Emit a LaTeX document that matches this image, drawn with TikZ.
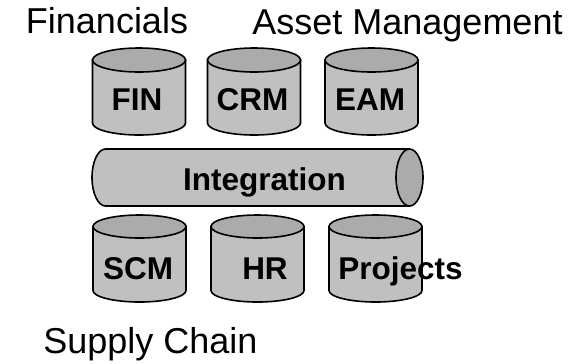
\documentclass[tikz,border=0pt]{standalone}
\usepackage{fontspec}
\setmainfont{Liberation Sans}
\definecolor{bodygray}{HTML}{C0C0C0}
\definecolor{capgray}{HTML}{ABABAB}
\tikzset{
  outline/.style={draw=black, line width=1.6bp},
  dblabel/.style={inner sep=0pt, anchor=base, font=\fontsize{31.5bp}{36bp}\selectfont\bfseries},
  arealabel/.style={inner sep=0pt, anchor=base, font=\fontsize{36bp}{42bp}\selectfont},
}
% upright drum: #1 centre x, #2 y of top ellipse centre, #3 y of bottom arc centre, #4 y radius
\newcommand\drum[4]{%
  \path[outline, fill=bodygray]
    (#1-46.5,#2) -- (#1-46.5,#3)
    arc[start angle=180, end angle=360, x radius=46.5, y radius=#4]
    -- (#1+46.5,#2) -- cycle;
  \path[outline, fill=capgray] (#1,#2) ellipse[x radius=46.5, y radius=#4];
}
\begin{document}
\begin{tikzpicture}[x=1bp, y=1bp]
  \useasboundingbox (0,0) rectangle (585,-363);

  % upper row of stores
  \drum{139}{-60}{-123}{12}
  \drum{254}{-60}{-123}{12}
  \drum{371.5}{-60}{-123}{12}

  % horizontal integration pipe
  \path[outline, fill=bodygray]
    (409.5,-149) -- (105.5,-149)
    arc[start angle=90, end angle=270, x radius=13.5, y radius=28.5]
    -- (409.5,-206) -- cycle;
  \path[outline, fill=capgray] (409.5,-177.5) ellipse[x radius=13.5, y radius=28.5];

  % lower row of stores
  \drum{139.5}{-226.5}{-290.5}{11.5}
  \drum{257.5}{-226.5}{-290.5}{11.5}
  \drum{375.5}{-226.5}{-290.5}{11.5}

  % store labels
  \node[dblabel] (fin) at (137,-110) {FIN};
  \node[dblabel] (crm) at (252.5,-110) {CRM};
  \node[dblabel] (eam) at (370,-110) {EAM};
  \node[dblabel] (integ) at (264.5,-190) {Integration};
  \node[dblabel] (scm) at (138,-279) {SCM};
  \node[dblabel] (hr) at (265,-279) {HR};
  \node[dblabel] (proj) at (400.5,-279) {Projects};

  % area labels
  \node[arealabel] (financials) at (107,-33.5) {Financials};
  \node[arealabel] (assets) at (407.5,-34.5) {Asset Management};
  \node[arealabel] (supply) at (150.5,-353) {Supply Chain};
\end{tikzpicture}
\end{document}
